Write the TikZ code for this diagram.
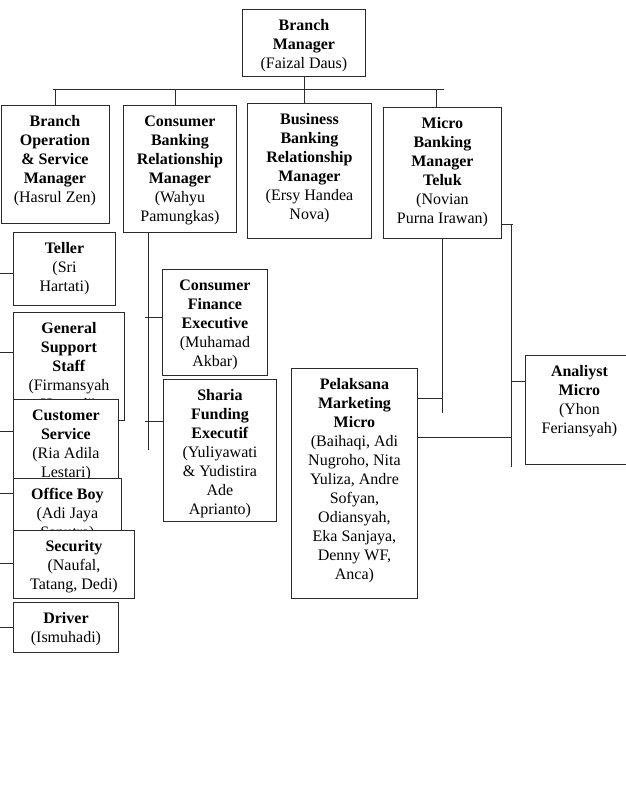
\documentclass[tikz,border=0pt]{standalone}
\usepackage{fontspec}
\setmainfont{Liberation Serif}
\usepackage{tikz}
\usetikzlibrary{positioning,calc}
\definecolor{ink}{HTML}{2B2B2B}
\newcommand{\orgtext}[4]{\parbox[c][#2][t]{#1}{\centering\vspace*{8pt}\strut\textbf{#3}\\#4\par}}
\tikzset{
  orgbox/.style ={draw=ink, fill=white, line width=0.9pt, anchor=north west,
                  inner sep=0pt, font=\fontsize{16}{19}\selectfont},
  orgline/.style={draw=ink, line width=0.9pt},
}

\begin{document}
\begin{tikzpicture}[x=1pt,y=-1pt]
  \path[use as bounding box,fill=white] (0,0) rectangle (626,792);

  \node[orgbox] (bm)  at (242,9)    {\orgtext{123pt}{67pt}{Branch\\Manager}{(Faizal Daus)}};
  \node[orgbox] (bo)  at (0.5,105)  {\orgtext{108pt}{118pt}{Branch\\Operation\\\& Service\\Manager}{(Hasrul Zen)}};
  \node[orgbox] (cbr) at (123,105)  {\orgtext{113pt}{127pt}{Consumer\\Banking\\Relationship\\Manager}{(Wahyu\\Pamungkas)}};
  \node[orgbox] (bb)  at (247,103)  {\orgtext{124pt}{135pt}{Business\\Banking\\Relationship\\Manager}{(Ersy Handea\\Nova)}};
  \node[orgbox] (mb)  at (383,107)  {\orgtext{118pt}{131pt}{Micro\\Banking\\Manager\\Teluk}{(Novian\\Purna Irawan)}};

  \node[orgbox] (teller) at (13,232) {\orgtext{102pt}{73pt}{Teller}{(Sri\\Hartati)}};
  \node[orgbox] (gss) at (13,312)   {\orgtext{111pt}{108pt}{General\\Support\\Staff}{(Firmansyah\\Haryadi)}};
  \node[orgbox] (cs)  at (13,399)   {\orgtext{105pt}{79pt}{Customer\\Service}{(Ria Adila\\Lestari)}};
  \node[orgbox] (ob)  at (13,478)   {\orgtext{108pt}{52pt}{Office Boy}{(Adi Jaya\\Saputra)}};
  \node[orgbox] (sec) at (13,530)   {\orgtext{121pt}{68pt}{Security}{(Naufal,\\Tatang, Dedi)}};
  \node[orgbox] (drv) at (13,602)   {\orgtext{105pt}{50pt}{Driver}{(Ismuhadi)}};

  \node[orgbox] (cfe) at (162,269)  {\orgtext{105pt}{106pt}{Consumer\\Finance\\Executive}{(Muhamad\\Akbar)}};
  \node[orgbox] (sfe) at (163,379)  {\orgtext{113pt}{142pt}{Sharia\\Funding\\Executif}{(Yuliyawati\\\& Yudistira\\Ade\\Aprianto)}};

  \node[orgbox] (pmm) at (291,368)  {\orgtext{126pt}{230pt}{Pelaksana\\Marketing\\Micro}{(Baihaqi, Adi\\Nugroho, Nita\\Yuliza, Andre\\Sofyan,\\Odiansyah,\\Eka Sanjaya,\\Denny WF,\\Anca)}};
  \node[orgbox] (am)  at (525,355)  {\orgtext{108pt}{109pt}{Analiyst\\Micro}{(Yhon\\Feriansyah)}};

  \coordinate (busl) at (53,89);
  \coordinate (busr) at (444,89);
  \draw[orgline] (busl) -- (busr);
  \draw[orgline] (bm.south) -- (bm.south |- bb.north);
  \draw[orgline] (bo.north) -- (bo.north |- busl);
  \draw[orgline] ([xshift=-5pt]cbr.north) -- ([xshift=-5pt]cbr.north |- busl);
  \draw[orgline] ([xshift=-6pt]mb.north) -- ([xshift=-6pt]mb.north |- busl);

  \foreach \n/\y in {teller/273,gss/352,cs/431,ob/493,sec/563,drv/627}
    \draw[orgline] (0,\y) -- (\n.west |- 0,\y);

  \coordinate (cbrv) at ([xshift=-32pt]cbr.south);
  \draw[orgline] (cbrv) -- ++(0,217);
  \draw[orgline] ([xshift=-3pt]cbrv |- 0,317) -- (cfe.west |- 0,317);
  \draw[orgline] ([xshift=-3pt]cbrv |- 0,421) -- (sfe.west |- 0,421);

  \draw[orgline] (mb.south) -- (mb.south |- 0,413);
  \draw[orgline] (pmm.east |- 0,398) -- (mb.south |- 0,398);

  \coordinate (mbr) at (511,224);
  \draw[orgline] (mb.east |- mbr) -- ([xshift=2pt]mbr);
  \draw[orgline] (mbr) -- (511,467);
  \draw[orgline] (pmm.east |- 0,437) -- (mbr |- 0,437);
  \draw[orgline] (mbr |- 0,381) -- (am.west |- 0,381);
\end{tikzpicture}
\end{document}
